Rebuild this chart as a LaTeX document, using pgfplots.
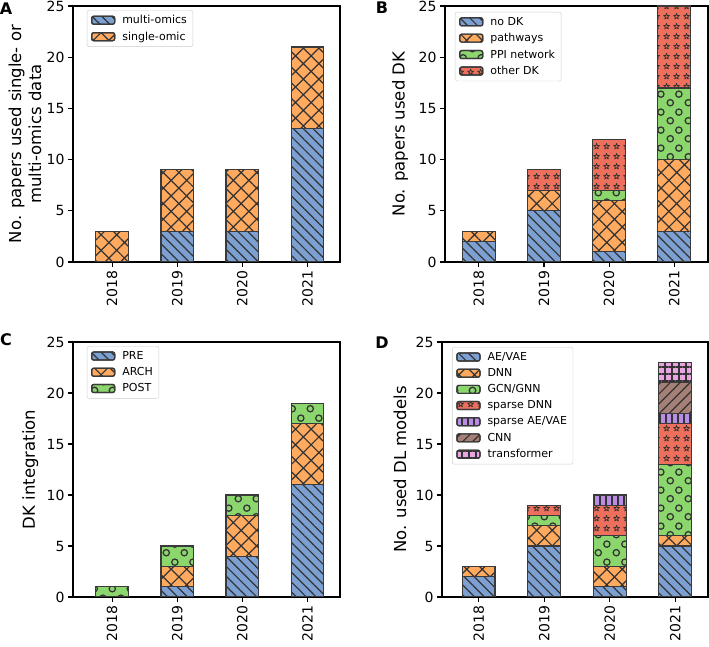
\documentclass[border=0pt]{standalone}
\usepackage{fontspec}
\setmainfont{DejaVu Sans}
\usepackage{pgfplots}
\pgfplotsset{compat=1.18}
\usetikzlibrary{patterns.meta}

\definecolor{cblue}{HTML}{7DA0D2}
\definecolor{corange}{HTML}{FFAA5F}
\definecolor{cgreen}{HTML}{8CD66E}
\definecolor{cred}{HTML}{EE705C}
\definecolor{cpurple}{HTML}{B98CE6}
\definecolor{cbrown}{HTML}{A58076}
\definecolor{cpink}{HTML}{E8A5E1}
\definecolor{hatchc}{HTML}{333333}
\definecolor{edgec}{HTML}{3A3A3A}

\tikzdeclarepattern{
  name=Circ, type=uncolored,
  bounding box={(0pt,0pt) and (18pt,18pt)},
  tile size={(18pt,18pt)},
  code={
    \draw[line width=1.3pt] (4.5pt,4.5pt) circle (3.3pt);
    \draw[line width=1.3pt] (13.5pt,13.5pt) circle (3.3pt);
  }
}
\tikzdeclarepattern{
  name=Star, type=uncolored,
  bounding box={(0pt,0pt) and (9.5pt,9.5pt)},
  tile size={(9.5pt,9.5pt)},
  code={
    \draw[line width=0.8pt, line join=round, shift={(4.75pt,4.75pt)}]
      (90:3.2pt) -- (126:1.3pt) -- (162:3.2pt) -- (198:1.3pt) -- (234:3.2pt) -- (270:1.3pt)
      -- (306:3.2pt) -- (342:1.3pt) -- (18:3.2pt) -- (54:1.3pt) -- cycle;
  }
}

\pgfplotsset{
  sblue/.style={fill=cblue, draw=edgec, line width=1.2pt,
    postaction={pattern={Lines[angle=-45,distance=7pt,line width=1.2pt]}, pattern color=hatchc}},
  sorange/.style={fill=corange, draw=edgec, line width=1.2pt,
    postaction={pattern={Hatch[angle=45,distance=11pt,line width=1.2pt]}, pattern color=hatchc}},
  sgreen/.style={fill=cgreen, draw=edgec, line width=1.2pt,
    postaction={pattern=Circ, pattern color=hatchc}},
  sred/.style={fill=cred, draw=edgec, line width=1.2pt,
    postaction={pattern=Star, pattern color=hatchc}},
  spurple/.style={fill=cpurple, draw=edgec, line width=1.2pt,
    postaction={pattern={Lines[angle=90,distance=6pt,line width=1.2pt]}, pattern color=hatchc}},
  sbrown/.style={fill=cbrown, draw=edgec, line width=1.2pt,
    postaction={pattern={Lines[angle=45,distance=7pt,line width=1.2pt]}, pattern color=hatchc}},
  spink/.style={fill=cpink, draw=edgec, line width=1.2pt,
    postaction={pattern={Hatch[angle=0,distance=7pt,line width=1.2pt]}, pattern color=hatchc}},
  panel/.style={
    scale only axis, ybar stacked, bar width=0.5,
    ymin=0, ymax=25, ytick={0,5,10,15,20,25},
    xtick={0,1,2,3}, xticklabels={2018,2019,2020,2021},
    tick pos=left, tick align=outside, major tick length=5pt,
    x tick label style={rotate=90, anchor=east},
    tick label style={font=\fontsize{14}{16}\selectfont},
    label style={font=\fontsize{16.5}{20}\selectfont},
    /pgf/number format/assume math mode=true,
    axis line style={line width=1.1pt},
    every tick/.style={black, line width=1.1pt},
    legend cell align=left,
    legend style={anchor=north west, draw=black!20, rounded corners=2pt,
      font=\fontsize{11}{13}\selectfont, inner xsep=4pt, inner ysep=3pt, row sep=2.6pt,
      /tikz/every odd column/.append style={column sep=5pt}},
    legend image code/.code={\draw[##1] (0pt,-4pt) rectangle (23pt,4pt);},
  },
}

\begin{document}
\begin{tikzpicture}
\path[use as bounding box] (0pt,0pt) rectangle (709pt,647pt);

% Panel A
\begin{axis}[panel, at={(73pt,385pt)}, anchor=south west, width=267pt, height=256pt,
  xmin=-0.6, xmax=3.5,
  ylabel={No. papers used single- or\\multi-omics data},
  ylabel style={align=center, at={(axis description cs:-0.18,0.5)}, anchor=center},
  legend style={at={(axis description cs:0.052,0.984)}}]
\addplot[sblue] coordinates {(0,0) (1,3) (2,3) (3,13)};
\addplot[sorange] coordinates {(0,3) (1,6) (2,6) (3,8)};
\legend{multi-omics, single-omic}
\end{axis}

% Panel B
\begin{axis}[panel, at={(445pt,385pt)}, anchor=south west, width=263pt, height=256pt,
  xmin=-0.52, xmax=3.52,
  ylabel={No. papers used DK},
  ylabel style={at={(axis description cs:-0.171,0.5)}, anchor=center},
  legend style={at={(axis description cs:0.038,0.977)}}]
\addplot[sblue] coordinates {(0,2) (1,5) (2,1) (3,3)};
\addplot[sorange] coordinates {(0,1) (1,2) (2,5) (3,7)};
\addplot[sgreen] coordinates {(0,0) (1,0) (2,1) (3,7)};
\addplot[sred] coordinates {(0,0) (1,2) (2,5) (3,8)};
\legend{no DK, pathways, PPI network, other DK}
\end{axis}

% Panel C
\begin{axis}[panel, at={(73pt,50pt)}, anchor=south west, width=267pt, height=255pt,
  xmin=-0.6, xmax=3.5,
  ylabel={DK integration},
  ylabel style={at={(axis description cs:-0.16,0.5)}, anchor=center},
  legend style={at={(axis description cs:0.052,0.984)}}]
\addplot[sblue] coordinates {(0,0) (1,1) (2,4) (3,11)};
\addplot[sorange] coordinates {(0,0) (1,2) (2,4) (3,6)};
\addplot[sgreen] coordinates {(0,1) (1,2) (2,2) (3,2)};
\legend{PRE, ARCH, POST}
\end{axis}

% Panel D
\begin{axis}[panel, at={(442pt,50pt)}, anchor=south west, width=266pt, height=255pt,
  xmin=-0.56, xmax=3.5,
  ylabel={No. used DL models},
  ylabel style={at={(axis description cs:-0.158,0.5)}, anchor=center},
  legend style={at={(axis description cs:0.038,0.98)}}]
\addplot[sblue] coordinates {(0,2) (1,5) (2,1) (3,5)};
\addplot[sorange] coordinates {(0,1) (1,2) (2,2) (3,1)};
\addplot[sgreen] coordinates {(0,0) (1,1) (2,3) (3,7)};
\addplot[sred] coordinates {(0,0) (1,1) (2,3) (3,4)};
\addplot[spurple] coordinates {(0,0) (1,0) (2,1) (3,1)};
\addplot[sbrown] coordinates {(0,0) (1,0) (2,0) (3,3)};
\addplot[spink] coordinates {(0,0) (1,0) (2,0) (3,2)};
\legend{AE/VAE, DNN, GCN/GNN, sparse DNN, sparse AE/VAE, CNN, transformer}
\end{axis}

\node[font=\bfseries\fontsize{16}{18}\selectfont] at (6pt,638pt) {A};
\node[font=\bfseries\fontsize{16}{18}\selectfont] at (382pt,639pt) {B};
\node[font=\bfseries\fontsize{16}{18}\selectfont] at (6pt,307pt) {C};
\node[font=\bfseries\fontsize{16}{18}\selectfont] at (382pt,304pt) {D};
\end{tikzpicture}
\end{document}
